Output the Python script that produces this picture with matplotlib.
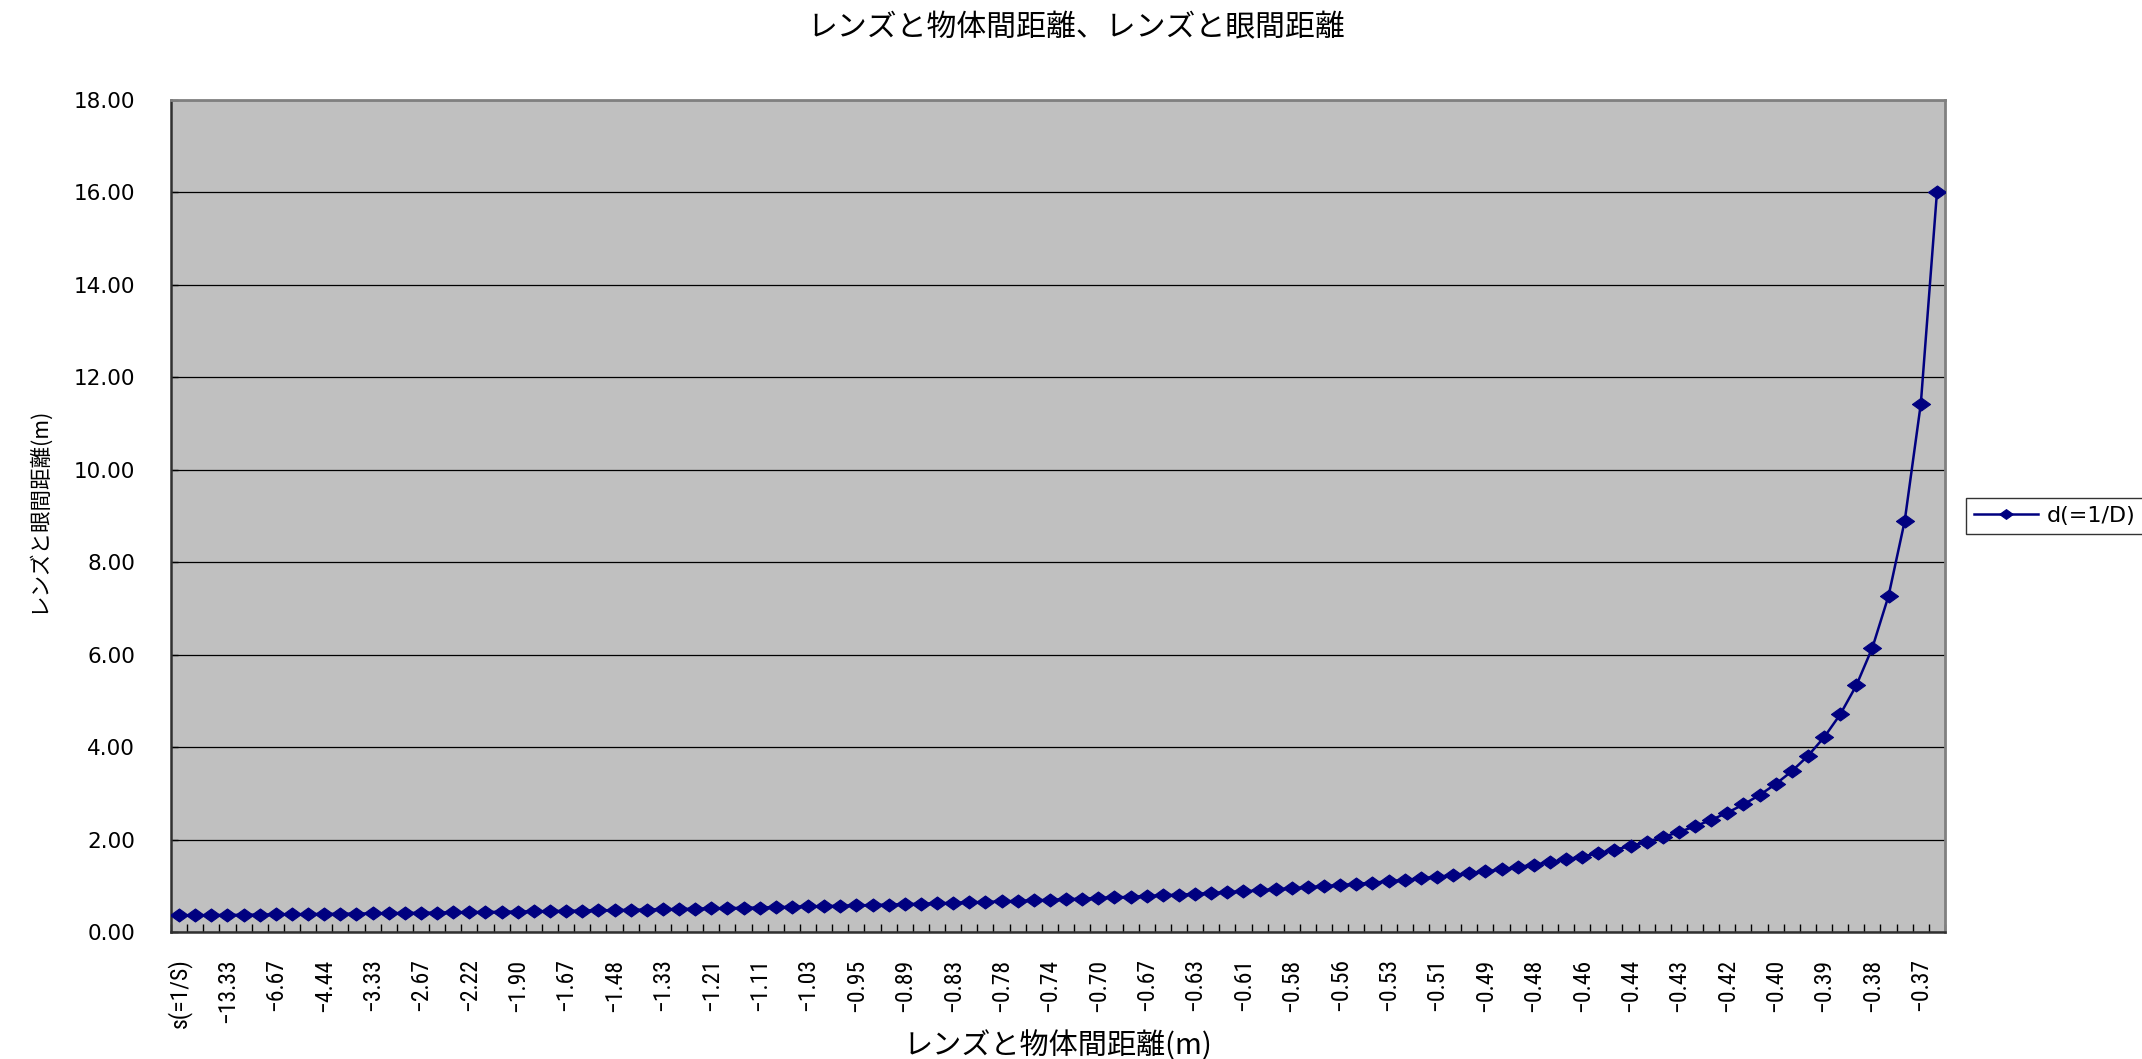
import os
import matplotlib
matplotlib.use("Agg")
import matplotlib.pyplot as plt
from matplotlib import font_manager
from matplotlib.font_manager import FontProperties
import numpy as np

# ---- data ----
tick_labels = ["s(=1/S)", "−13.33", "−6.67", "−4.44", "−3.33", "−2.67", "−2.22", "−1.90",
               "−1.67", "−1.48", "−1.33", "−1.21", "−1.11", "−1.03", "−0.95", "−0.89",
               "−0.83", "−0.78", "−0.74", "−0.70", "−0.67", "−0.63", "−0.61", "−0.58",
               "−0.56", "−0.53", "−0.51", "−0.49", "−0.48", "−0.46", "−0.44", "−0.43",
               "−0.42", "−0.40", "−0.39", "−0.38", "−0.37"]
label_step = 3

d_values = [0.3587, 0.3620, 0.3653, 0.3687, 0.3721, 0.3756, 0.3791, 0.3828, 0.3865, 0.3902,
            0.3941, 0.3980, 0.4020, 0.4061, 0.4103, 0.4145, 0.4188, 0.4233, 0.4278, 0.4324,
            0.4372, 0.4420, 0.4469, 0.4520, 0.4571, 0.4624, 0.4678, 0.4734, 0.4790, 0.4848,
            0.4908, 0.4969, 0.5031, 0.5096, 0.5161, 0.5229, 0.5298, 0.5369, 0.5442, 0.5517,
            0.5594, 0.5674, 0.5755, 0.5839, 0.5926, 0.6015, 0.6107, 0.6202, 0.6299, 0.6400,
            0.6504, 0.6612, 0.6723, 0.6838, 0.6957, 0.7080, 0.7207, 0.7339, 0.7477, 0.7619,
            0.7767, 0.7921, 0.8081, 0.8247, 0.8421, 0.8602, 0.8791, 0.8989, 0.9195, 0.9412,
            0.9639, 0.9877, 1.0127, 1.0390, 1.0667, 1.0959, 1.1268, 1.1594, 1.1940, 1.2308,
            1.2698, 1.3115, 1.3559, 1.4035, 1.4545, 1.5094, 1.5686, 1.6327, 1.7021, 1.7778,
            1.8605, 1.9512, 2.0513, 2.1622, 2.2857, 2.4242, 2.5806, 2.7586, 2.9630, 3.2000,
            3.4783, 3.8095, 4.2105, 4.7059, 5.3333, 6.1538, 7.2727, 8.8889, 11.4286, 16.0000]

title = "レンズと物体間距離、レンズと眼間距離"
xlabel = "レンズと物体間距離(m)"
ylabel = "レンズと眼間距離(m)"
series_name = "d(=1/D)"

# ---- fonts: a narrow/condensed regular face for the x tick labels ----
bad = ("bold", "italic", "oblique", "light", "thin", "medium", "black", "semi", "extra")
cands = []
for f in font_manager.fontManager.ttflist:
    fn = os.path.basename(f.fname).lower()
    if ("narrow" in fn or "condensed" in fn) and not any(b in fn for b in bad):
        cands.append(f.fname)
prio = ["liberationsansnarrow-regular", "robotocondensed-regular", "dejavusanscondensed."]
narrow_file = None
for p in prio:
    for c in cands:
        if p in os.path.basename(c).lower():
            narrow_file = c
            break
    if narrow_file:
        break

cjk = ["Noto Sans CJK JP", "DejaVu Sans"]

W, H = 2142, 1059
fig = plt.figure(figsize=(W / 100, H / 100), dpi=100, facecolor="white")
L, R, T, B = 171, 1945, 100, 932
ax = fig.add_axes([L / W, 1 - B / H, (R - L) / W, (B - T) / H])
ax.set_facecolor("#C0C0C0")

n = len(d_values)
x = np.arange(n)
diamond = [(-1, 0), (0, 0.72), (1, 0), (0, -0.72), (-1, 0)]
line, = ax.plot(x, d_values, color="#000080", lw=1.8, marker=diamond, ms=13,
                mfc="#000080", mec="#000080", mew=0.8, label=series_name, zorder=3)

ax.set_xlim(-0.5, n - 0.5)
ax.set_ylim(0, 18)
yt = np.arange(0, 18.01, 2)
ax.set_yticks(yt)
ax.set_yticklabels([f"{v:.2f}" for v in yt], fontsize=15.5, family="DejaVu Sans")
ax.yaxis.grid(True, color="black", lw=0.9)
ax.set_axisbelow(True)

ax.set_xticks(x[::label_step][:len(tick_labels)])
if narrow_file:
    xfp = FontProperties(fname=narrow_file, size=17)
else:
    xfp = FontProperties(family="DejaVu Sans", size=13)
ax.set_xticklabels(tick_labels, rotation=90, fontproperties=xfp, va="top")
ax.set_xticks(np.arange(-0.5, n, 1.0), minor=True)
ax.tick_params(axis="x", which="major", length=0, pad=19)
ax.tick_params(axis="x", which="minor", direction="in", length=6, width=1, color="black")
ax.tick_params(axis="y", which="major", direction="in", length=5, width=1, pad=26)

for s in ["top", "right"]:
    ax.spines[s].set_color("#808080")
    ax.spines[s].set_linewidth(2)
for s in ["left", "bottom"]:
    ax.spines[s].set_color("#303030")
    ax.spines[s].set_linewidth(1.8)

fig.text(1076 / W, 1 - 28 / H, title, ha="center", va="center", fontsize=21.5, family=cjk)
fig.text(1058 / W, 1 - 1046 / H, xlabel, ha="center", va="center", fontsize=21, family=cjk)
fig.text(38 / W, 1 - 510 / H, ylabel, ha="center", va="center", rotation=90,
         fontsize=15.5, family=cjk)

leg = fig.legend(handles=[line], loc="center left", bbox_to_anchor=(1966 / W, 1 - 516 / H),
                 frameon=True, fancybox=False, edgecolor="black", markerscale=0.75,
                 borderpad=0.35, handlelength=2.9, handletextpad=0.4, borderaxespad=0,
                 prop={"family": "DejaVu Sans", "size": 16})
leg.get_frame().set_linewidth(1.0)

fig.savefig("out.png", dpi=100, facecolor="white")
